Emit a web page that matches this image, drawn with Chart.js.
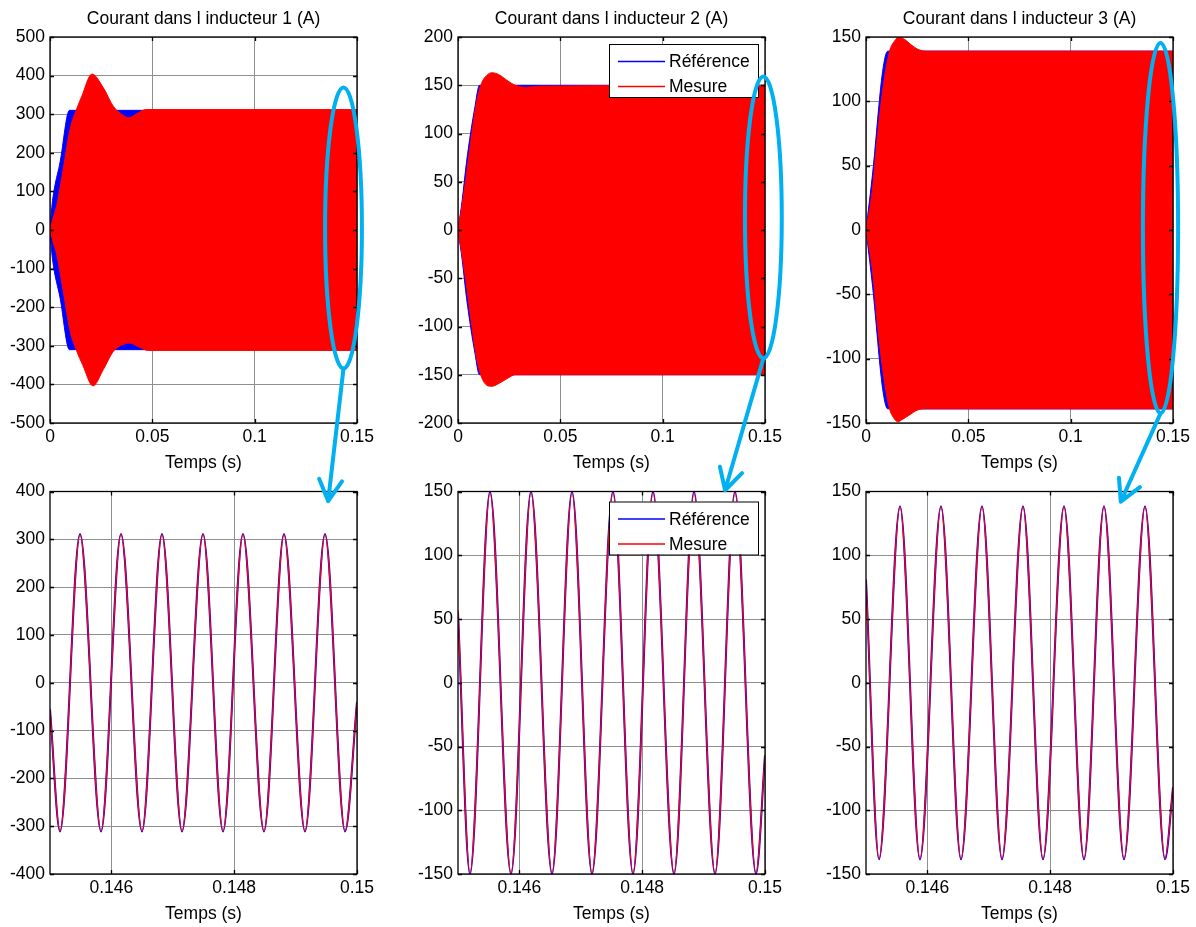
<!DOCTYPE html>
<html>
<head>
<meta charset="utf-8">
<script src="https://cdn.jsdelivr.net/npm/chart.js@4"></script>
<style>
  body { margin: 0; background: #fff; }
  #page { position: relative; width: 1196px; height: 927px; overflow: hidden; background: #fff; }
  #page canvas { position: absolute; }
  #overlay { left: 0; top: 0; pointer-events: none; z-index: 10; }
</style>
</head>
<body>
<div id="page">
  <canvas id="overlay" width="1196" height="927"></canvas>
</div>
<script>
// ---- titles, labels, ticks ----
const titles = ['Courant dans l inducteur 1 (A)', 'Courant dans l inducteur 2 (A)', 'Courant dans l inducteur 3 (A)'];
const xLabel = 'Temps (s)';
const legendLabels = ['Référence', 'Mesure'];

const xTicksTop = [0, 0.05, 0.1, 0.15];
const xTicksBottom = [0.146, 0.148, 0.15];
const yTicksTop1 = [-500, -400, -300, -200, -100, 0, 100, 200, 300, 400, 500];
const yTicksTop2 = [-200, -150, -100, -50, 0, 50, 100, 150, 200];
const yTicksTop3 = [-150, -100, -50, 0, 50, 100, 150];
const yTicksBot1 = [-400, -300, -200, -100, 0, 100, 200, 300, 400];
const yTicksBot2 = [-150, -100, -50, 0, 50, 100, 150];
const yTicksBot3 = [-150, -100, -50, 0, 50, 100, 150];

// ---- top row: envelope of the fast oscillation (upper / lower), 0 .. 0.15 s ----
// inductor 1
const refUpT1 = [0, 0.001, 0.005, 0.0095, 0.15];
const refUp1  = [0, 65, 178, 310, 310];
const refLoT1 = [0, 0.001, 0.005, 0.0095, 0.15];
const refLo1  = [0, -65, -178, -310, -310];
const mesUpT1 = [0, 0.0015, 0.0033, 0.0065, 0.0098, 0.013, 0.0155, 0.0205, 0.026, 0.031, 0.0355, 0.0385, 0.042, 0.047, 0.15];
const mesUp1  = [0, 31, 64, 159, 261, 313, 346, 404, 369, 320, 298, 291, 300, 312, 312];
const mesLoT1 = [0, 0.0015, 0.0033, 0.0065, 0.0098, 0.013, 0.016, 0.021, 0.026, 0.031, 0.0355, 0.039, 0.043, 0.048, 0.15];
const mesLo1  = [0, -31, -64, -159, -261, -313, -350, -404, -362, -314, -297, -293, -302, -312, -312];

// inductor 2
const refUpT2 = [0, 0.002, 0.0042, 0.0083, 0.0105, 0.15];
const refUp2  = [0, 30, 71, 128, 150, 150];
const refLoT2 = [0, 0.002, 0.0042, 0.0083, 0.0105, 0.15];
const refLo2  = [0, -30, -71, -128, -150, -150];
const mesUpT2 = [0, 0.003, 0.006, 0.009, 0.0115, 0.014, 0.0165, 0.02, 0.024, 0.028, 0.033, 0.04, 0.15];
const mesUp2  = [0, 40, 88, 132, 152, 160, 163, 161, 155, 150, 148, 149, 150];
const mesLoT2 = [0, 0.003, 0.006, 0.009, 0.012, 0.0165, 0.02, 0.024, 0.028, 0.15];
const mesLo2  = [0, -40, -88, -132, -155, -162, -159, -154, -150, -150];

// inductor 3
const refUpT3 = [0, 0.0033, 0.0081, 0.0106, 0.15];
const refUp3  = [0, 45, 123, 139, 139];
const refLoT3 = [0, 0.0033, 0.0081, 0.0106, 0.15];
const refLo3  = [0, -45, -123, -139, -139];
const mesUpT3 = [0, 0.003, 0.006, 0.009, 0.0115, 0.014, 0.0161, 0.019, 0.022, 0.026, 0.03, 0.15];
const mesUp3  = [0, 30, 80, 118, 139, 147, 150, 148, 144, 140, 139, 139];
const mesLoT3 = [0, 0.003, 0.006, 0.009, 0.0115, 0.0135, 0.0155, 0.018, 0.021, 0.025, 0.03, 0.15];
const mesLo3  = [0, -30, -80, -118, -139, -146, -149, -147, -144, -140, -139, -139];

// ---- bottom row: zoom 0.145 .. 0.15 s, edges + successive troughs / peaks ----
const zoomT1 = [0.145, 0.145163, 0.145489, 0.145831, 0.146156, 0.146498, 0.146824, 0.147150, 0.147492, 0.147818, 0.148143, 0.148485, 0.148811, 0.149153, 0.149479, 0.149805, 0.15];
const zoomRef1 = [-55, -311, 311, -311, 311, -311, 311, -311, 311, -311, 311, -311, 311, -311, 311, -311, -40];
const zoomMes1 = [-55, -310, 310, -310, 311, -310, 310, -310, 311, -310, 310, -310, 310, -310, 310, -310, -40];

const zoomT2 = [0.145, 0.145195, 0.145521, 0.145863, 0.146189, 0.146531, 0.146857, 0.147182, 0.147524, 0.147850, 0.148176, 0.148518, 0.148844, 0.149186, 0.149511, 0.149853, 0.15];
const zoomRef2 = [55, -150, 150, -150, 150, -150, 150, -150, 150, -150, 150, -150, 150, -150, 150, -150, -57];
const zoomMes2 = [57, -149, 149, -149, 149, -149, 149, -149, 149, -149, 149, -149, 149, -149, 149, -149, -57];

const zoomT3 = [0.145, 0.145212, 0.145554, 0.145879, 0.146221, 0.146547, 0.146889, 0.147215, 0.147557, 0.147883, 0.148225, 0.148550, 0.148876, 0.149202, 0.149544, 0.149870, 0.15];
const zoomRef3 = [81, -138.5, 138.5, -138.5, 138.5, -138.5, 138.5, -138.5, 138.5, -138.5, 138.5, -138.5, 138.5, -138.5, 138.5, -138.5, -82];
const zoomMes3 = [81, -138, 138, -138, 138, -138, 138, -138, 138, -138, 138, -138, 138, -138, 138, -138, -82];

// ---- cyan "zoom" marks: ellipse in top chart (data units), arrow tip in bottom chart ----
const markCenterT = [0.1434, 0.1492, 0.1439];
const markCenterY = [5, 13, 1.5];
const markHalfT = [0.0090, 0.0090, 0.0086];
const markHalfY = [364, 146, 144];
const arrowTipT = [0.14953, 0.14935, 0.14915];
const arrowTipY = [380, 151, 142];

// ---- styling ----
const BLUE = '#0000ff';
const RED = '#ff0000';
const CYAN = '#00b0f0';
const FONT = { family: "'Liberation Sans', Arial, sans-serif", size: 17.5 };
Chart.defaults.font.family = FONT.family;
Chart.defaults.font.size = FONT.size;
Chart.defaults.color = '#000';

function toXY(ts, vs) {
  return ts.map((t, i) => ({ x: t, y: vs[i] }));
}

function fmt(v) {
  return String(parseFloat(Number(v).toFixed(4)));
}

// box around the axes, inward ticks, and an opaque legend drawn above the data
const framePlugin = {
  id: 'frame',
  afterDraw(chart, args, opts) {
    const ctx = chart.ctx;
    const a = chart.chartArea;
    const sx = chart.scales.x, sy = chart.scales.y;
    ctx.save();
    ctx.strokeStyle = '#000';
    ctx.lineWidth = 1.3;
    ctx.beginPath();
    sx.ticks.forEach(tk => {
      const p = Math.round(sx.getPixelForValue(tk.value)) + 0.5;
      ctx.moveTo(p, a.bottom); ctx.lineTo(p, a.bottom - 4);
      ctx.moveTo(p, a.top); ctx.lineTo(p, a.top + 4);
    });
    sy.ticks.forEach(tk => {
      const p = Math.round(sy.getPixelForValue(tk.value)) + 0.5;
      ctx.moveTo(a.left, p); ctx.lineTo(a.left + 4, p);
      ctx.moveTo(a.right, p); ctx.lineTo(a.right - 4, p);
    });
    ctx.stroke();
    ctx.strokeRect(a.left, a.top, a.right - a.left, a.bottom - a.top);

    if (opts.legend) {
      const w = 149, h = 53;
      const bx = a.right - 7 - w;
      const by = a.top + opts.legend.top;
      ctx.fillStyle = '#fff';
      ctx.fillRect(bx, by, w, h);
      ctx.strokeStyle = '#000';
      ctx.lineWidth = 1;
      ctx.strokeRect(bx + 0.5, by + 0.5, w, h);
      const colors = [BLUE, RED];
      ctx.font = FONT.size + 'px ' + FONT.family;
      ctx.textBaseline = 'middle';
      ctx.textAlign = 'left';
      legendLabels.forEach((lab, i) => {
        const yy = by + 17 + i * 25 + 0.5;
        ctx.strokeStyle = colors[i];
        ctx.lineWidth = 1.5;
        ctx.beginPath();
        ctx.moveTo(bx + 9, yy);
        ctx.lineTo(bx + 56, yy);
        ctx.stroke();
        ctx.fillStyle = '#000';
        ctx.fillText(lab, bx + 60, yy + 1);
      });
    }
    ctx.restore();
  }
};

const page = document.getElementById('page');

function makeChart(cfg) {
  const cv = document.createElement('canvas');
  cv.width = 379;
  cv.height = cfg.height;
  cv.style.left = cfg.left + 'px';
  cv.style.top = cfg.top + 'px';
  page.insertBefore(cv, document.getElementById('overlay'));

  const chart = new Chart(cv.getContext('2d'), {
    type: 'line',
    data: { datasets: cfg.datasets },
    options: {
      responsive: false,
      animation: false,
      devicePixelRatio: 1,
      layout: { padding: cfg.padding },
      plugins: {
        legend: { display: false },
        tooltip: { enabled: false },
        title: {
          display: !!cfg.title,
          text: cfg.title || '',
          fullSize: false,
          font: { size: FONT.size, weight: 'normal' },
          color: '#000',
          padding: { top: 9, bottom: 7 }
        },
        frame: { legend: cfg.legend || null }
      },
      scales: {
        x: {
          type: 'linear',
          min: cfg.xMin,
          max: cfg.xMax,
          afterBuildTicks: s => { s.ticks = cfg.xTicks.map(v => ({ value: v })); },
          ticks: { padding: 4, maxRotation: 0, autoSkip: false, callback: v => fmt(v), color: '#000' },
          grid: { color: '#8f8f8f', lineWidth: 1, drawTicks: false },
          border: { display: false },
          title: { display: true, text: xLabel, color: '#000', padding: { top: 1, bottom: 0 } }
        },
        y: {
          min: cfg.yTicks[0],
          max: cfg.yTicks[cfg.yTicks.length - 1],
          afterBuildTicks: s => { s.ticks = cfg.yTicks.map(v => ({ value: v })); },
          afterFit: s => { s.width = 50; },
          ticks: { padding: 5, autoSkip: false, callback: v => String(v), color: '#000' },
          grid: { color: '#8f8f8f', lineWidth: 1, drawTicks: false },
          border: { display: false }
        }
      }
    },
    plugins: [framePlugin]
  });
  return chart;
}

function envelopeSets(rUT, rU, rLT, rL, mUT, mU, mLT, mL) {
  const base = { pointRadius: 0, borderWidth: 1, cubicInterpolationMode: 'monotone' };
  return [
    Object.assign({ label: legendLabels[0], data: toXY(rUT, rU), borderColor: BLUE, backgroundColor: BLUE, fill: false, order: 1 }, base),
    Object.assign({ label: legendLabels[0], data: toXY(rLT, rL), borderColor: BLUE, backgroundColor: BLUE, fill: '-1', order: 1 }, base),
    Object.assign({ label: legendLabels[1], data: toXY(mUT, mU), borderColor: RED, backgroundColor: RED, fill: false, order: 0 }, base),
    Object.assign({ label: legendLabels[1], data: toXY(mLT, mL), borderColor: RED, backgroundColor: RED, fill: '-1', order: 0 }, base)
  ];
}

function waveSets(ts, ref, mes) {
  return [
    { label: legendLabels[0], data: toXY(ts, ref), borderColor: BLUE, borderWidth: 2, pointRadius: 0, fill: false, order: 1, cubicInterpolationMode: 'monotone' },
    { label: legendLabels[1], data: toXY(ts, mes), borderColor: RED, borderWidth: 1.2, pointRadius: 0, fill: false, order: 0, cubicInterpolationMode: 'monotone' }
  ];
}

const lefts = [0, 408, 816];
const topPad = { top: 0, right: 22, bottom: 2, left: 0 };
const botPad = { top: 11, right: 22, bottom: 0, left: 0 };

const topCharts = [
  makeChart({ left: lefts[0], top: 0, height: 476, padding: topPad, title: titles[0], xMin: 0, xMax: 0.15, xTicks: xTicksTop, yTicks: yTicksTop1,
    datasets: envelopeSets(refUpT1, refUp1, refLoT1, refLo1, mesUpT1, mesUp1, mesLoT1, mesLo1) }),
  makeChart({ left: lefts[1], top: 0, height: 476, padding: topPad, title: titles[1], xMin: 0, xMax: 0.15, xTicks: xTicksTop, yTicks: yTicksTop2,
    datasets: envelopeSets(refUpT2, refUp2, refLoT2, refLo2, mesUpT2, mesUp2, mesLoT2, mesLo2), legend: { top: 7 } }),
  makeChart({ left: lefts[2], top: 0, height: 476, padding: topPad, title: titles[2], xMin: 0, xMax: 0.15, xTicks: xTicksTop, yTicks: yTicksTop3,
    datasets: envelopeSets(refUpT3, refUp3, refLoT3, refLo3, mesUpT3, mesUp3, mesLoT3, mesLo3) })
];

const bottomCharts = [
  makeChart({ left: lefts[0], top: 476, height: 449, padding: botPad, xMin: 0.145, xMax: 0.15, xTicks: xTicksBottom, yTicks: yTicksBot1,
    datasets: waveSets(zoomT1, zoomRef1, zoomMes1) }),
  makeChart({ left: lefts[1], top: 476, height: 449, padding: botPad, xMin: 0.145, xMax: 0.15, xTicks: xTicksBottom, yTicks: yTicksBot2,
    datasets: waveSets(zoomT2, zoomRef2, zoomMes2), legend: { top: 10 } }),
  makeChart({ left: lefts[2], top: 476, height: 449, padding: botPad, xMin: 0.145, xMax: 0.15, xTicks: xTicksBottom, yTicks: yTicksBot3,
    datasets: waveSets(zoomT3, zoomRef3, zoomMes3) })
];

// cyan ellipses and arrows, placed through each chart's own scales
function drawMarks() {
  const ov = document.getElementById('overlay');
  const ctx = ov.getContext('2d');
  ctx.clearRect(0, 0, ov.width, ov.height);
  ctx.strokeStyle = CYAN;
  ctx.lineWidth = 4;
  ctx.lineCap = 'round';
  ctx.lineJoin = 'round';
  for (let i = 0; i < 3; i++) {
    const tc = topCharts[i], bc = bottomCharts[i];
    const ox = parseFloat(tc.canvas.style.left), oy = parseFloat(tc.canvas.style.top);
    const bx = parseFloat(bc.canvas.style.left), by = parseFloat(bc.canvas.style.top);
    const cx = ox + tc.scales.x.getPixelForValue(markCenterT[i]);
    const cy = oy + tc.scales.y.getPixelForValue(markCenterY[i]);
    const rx = Math.abs(tc.scales.x.getPixelForValue(markCenterT[i] + markHalfT[i]) - tc.scales.x.getPixelForValue(markCenterT[i]));
    const ry = Math.abs(tc.scales.y.getPixelForValue(markCenterY[i] + markHalfY[i]) - tc.scales.y.getPixelForValue(markCenterY[i]));
    ctx.beginPath();
    ctx.ellipse(cx, cy, rx, ry, 0, 0, Math.PI * 2);
    ctx.stroke();

    const sx = cx, sy = cy + ry;
    const tx = bx + bc.scales.x.getPixelForValue(arrowTipT[i]);
    const ty = by + bc.scales.y.getPixelForValue(arrowTipY[i]);
    ctx.beginPath();
    ctx.moveTo(sx, sy);
    ctx.lineTo(tx, ty);
    const ang = Math.atan2(sy - ty, sx - tx);
    const len = 24, spread = 0.5;
    ctx.moveTo(tx + len * Math.cos(ang - spread), ty + len * Math.sin(ang - spread));
    ctx.lineTo(tx, ty);
    ctx.lineTo(tx + len * Math.cos(ang + spread), ty + len * Math.sin(ang + spread));
    ctx.stroke();
  }
}
drawMarks();
</script>
</body>
</html>
